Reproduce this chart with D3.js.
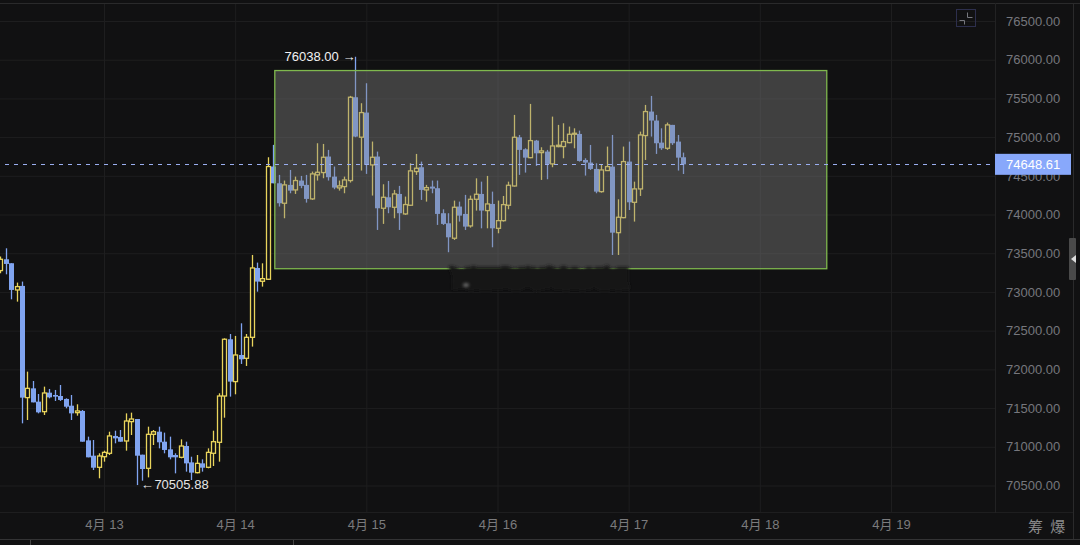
<!DOCTYPE html>
<html lang="zh">
<head>
  <meta charset="UTF-8">
  <title>K线</title>
  <script src="https://d3js.org/d3.v7.min.js"></script>
  <style>
    html, body { margin: 0; background: #111112; overflow: hidden; }
    svg { display: block; }
    text { font-family: "Liberation Sans", sans-serif; }
    .y-axis text { fill: #76777d; font-size: 13px; }
    .x-axis text { fill: #7b7b7d; font-size: 13px; font-family: "Liberation Sans", "Noto Sans CJK SC", sans-serif; }
    .grid-line { stroke: #1e1e1f; stroke-width: 1; }
  </style>
</head>
<body>
<svg width="1080" height="545"></svg>
<script>
  // hourly candles, the first one opens 04-12 05:00
  const firstCandle = new Date(2024, 3, 12, 5);

  const opens = [
    73276,73422,73371,73026,73078,71635,71755,71583,71454,71699,71669,71656,71618,71531,71441,71463,71083,70885,70735,
    70872,70916,71140,71127,71075,71325,71359,70898,70722,71161,71195,71066,70967,70894,70864,71010,70799,70666,70786,70735,70916,71058,71656,72389,
    71842,72186,72143,72414,73310,73138,73164,74620,74404,74146,74383,74318,74439,74383,74202,74512,74542,74749,74490,74344,74361,74439,75515,74999,
    75317,74641,74749,74081,74223,74094,74266,74008,74120,74555,74611,74318,74361,74340,74017,73887,73694,74103,74008,73853,74197,74266,74051,74137,
    73822,73921,74120,74369,74998,74843,74735,74955,74800,74813,74654,74878,74878,74929,75037,75041,74705,74671,74589,74296,74568,74619,73766,73960,
    74684,74158,74331,75020,75330,75214,74929,74856,75158,74942,74740
  ];
  const closes = [
    73422,73362,73026,73069,71635,71755,71574,71445,71695,71639,71648,71605,71518,71432,71463,71066,70864,70730,70881,
    70928,71140,71109,71066,71333,71359,70885,70713,71161,71195,71058,70959,70864,70864,71010,70786,70666,70786,70730,70928,71066,71656,72389,71842,
    72186,72130,72414,73310,73134,73172,74620,74404,74146,74383,74309,74439,74370,74202,74525,74546,74740,74482,74348,74370,74447,75515,75007,75317,
    74641,74740,74081,74223,74094,74266,74017,74129,74564,74598,74318,74348,74335,74008,73879,73706,74094,73986,73844,74197,74262,74051,74137,73822,
    73921,74128,74378,74998,74835,74735,74955,74791,74822,74654,74886,74895,74942,75037,75050,74692,74671,74589,74296,74576,74619,73766,73965,74684,
    74158,74331,75028,75330,75214,74921,74856,75158,74921,74735,74648.61
  ];
  const highs = [
    73457,73564,73371,73121,73134,71971,71850,71682,71777,71747,71734,71798,71626,71669,71549,71475,71131,71088,70916,
    70950,71195,71208,71217,71432,71441,71359,70898,71260,71217,71260,71183,71131,70916,71096,71066,70872,70894,70838,70980,71208,71691,72401,72457,
    72432,72595,72457,73478,73379,73370,74740,74900,74512,74439,74576,74490,74499,74512,74555,74921,74912,74835,74620,74439,74490,75533,76038,75438,
    75696,74943,74813,74391,74434,74318,74370,74232,74663,74783,74684,74383,74439,74439,74068,74017,74180,74167,74254,74245,74468,74425,74499,74296,
    74180,74240,74425,75287,75028,74856,75429,74964,74869,74835,75265,75158,75179,75136,75114,75084,74727,74899,74662,74641,74878,75028,74197,74878,
    74942,74425,75071,75416,75532,75287,75114,75188,75158,75028,74800
  ];
  const lows = [
    73241,73228,72905,72875,71303,71346,71574,71432,71411,71626,71592,71592,71497,71346,71402,71066,70864,70700,70593,
    70808,70894,71045,71066,70950,71152,70505.88,70562,70605,71023,70980,70916,70838,70657,70851,70679,70571,70657,70679,70722,70752,70808,71376,71648,
    71678,72070,72044,72294,73004,73069,73155,74404,74103,73952,74275,74266,74340,74154,74189,74439,74469,74439,74327,74309,74275,74413,74999,74568,
    74525,74245,73801,73879,74017,73952,73801,73995,74111,74512,74189,74167,74275,73866,73866,73513,73672,73909,73801,73831,74051,73822,73822,73577,
    73758,73909,74068,74361,74512,74542,74727,74628,74447,74456,74611,74869,74727,74921,74856,74684,74503,74576,74275,74283,74568,73478,73478,73952,
    74059,73909,74240,74705,75007,74783,74835,74835,74899,74568,74524
  ];

  const priceTicks = [70500,71000,71500,72000,72500,73000,73500,74000,74500,75000,75500,76000,76500];
  const dayTicks = [new Date(2024,3,13), new Date(2024,3,14), new Date(2024,3,15), new Date(2024,3,16), new Date(2024,3,17), new Date(2024,3,18), new Date(2024,3,19)];
  const dayLabels = ["4月 13","4月 14","4月 15","4月 16","4月 17","4月 18","4月 19"];

  const lastPrice = 74648.61;
  const maxPrice = 76038.00;
  const minPrice = 70505.88;
  // the drawn rectangle
  const boxPrices = [75860, 73300];
  const boxTimes = [new Date(2024,3,14,7,15), new Date(2024,3,18,12,15)];

  const width = 1080, height = 545;
  const plotRight = 995, plotBottom = 513;
  const up = "#e9d45c", down = "#80a4f0", bg = "#111112";

  const svg = d3.select("svg");
  const x = d3.scaleTime().domain([dayTicks[0], dayTicks[6]]).range([104, 891]);
  const y = d3.scaleLinear().domain([70500, 76500]).range([485.5, 21]);

  const candles = opens.map((o, i) => ({
    time: d3.timeHour.offset(firstCandle, i),
    open: o, close: closes[i], high: highs[i], low: lows[i]
  }));

  const defs = svg.append("defs");
  const smudge = defs.append("filter").attr("id", "smudge").attr("x", "-10%").attr("y", "-50%").attr("width", "120%").attr("height", "200%");
  smudge.append("feTurbulence").attr("type", "fractalNoise").attr("baseFrequency", 0.09).attr("numOctaves", 2).attr("seed", 4).attr("result", "noise");
  smudge.append("feDisplacementMap").attr("in", "SourceGraphic").attr("in2", "noise").attr("scale", 8).attr("result", "wavy");
  smudge.append("feGaussianBlur").attr("in", "wavy").attr("stdDeviation", 1.4);
  defs.append("filter").attr("id", "soft").attr("x", "-100%").attr("y", "-100%").attr("width", "300%").attr("height", "300%")
    .append("feGaussianBlur").attr("stdDeviation", 1.5);
  defs.append("clipPath").attr("id", "plot").append("rect").attr("width", plotRight).attr("height", plotBottom);

  // grid + axes
  const yAxis = d3.axisRight(y).tickValues(priceTicks).tickSize(-plotRight).tickPadding(11).tickFormat(d3.format(".2f"));
  svg.append("g").attr("class", "y-axis").attr("transform", `translate(${plotRight},0)`).call(yAxis)
    .call(g => g.select(".domain").remove())
    .call(g => g.selectAll("line").attr("class", "grid-line"));

  const xAxis = d3.axisBottom(x).tickValues(dayTicks).tickSize(-(plotBottom - 4)).tickPadding(7).tickFormat((d, i) => dayLabels[i]);
  svg.append("g").attr("class", "x-axis").attr("transform", `translate(0,${plotBottom})`).call(xAxis)
    .call(g => g.select(".domain").remove())
    .call(g => g.selectAll("line").attr("class", "grid-line"));

  // frame lines
  const frame = svg.append("g").attr("stroke", "#2a2a2b").attr("stroke-width", 1);
  frame.append("line").attr("x1", 0).attr("x2", width).attr("y1", 3.5).attr("y2", 3.5);
  frame.append("line").attr("x1", 0).attr("x2", 1073).attr("y1", plotBottom - .5).attr("y2", plotBottom - .5).attr("stroke", "#1e1e1f");
  frame.append("line").attr("x1", plotRight + .5).attr("x2", plotRight + .5).attr("y1", 3).attr("y2", plotBottom).attr("stroke", "#222223");
  frame.append("line").attr("x1", 1073.5).attr("x2", 1073.5).attr("y1", 3).attr("y2", 540);
  frame.append("line").attr("x1", 0).attr("x2", width).attr("y1", 539.5).attr("y2", 539.5).attr("stroke", "#333334");
  frame.append("line").attr("x1", 30.5).attr("x2", 30.5).attr("y1", 540).attr("y2", height).attr("stroke", "#444");
  frame.append("line").attr("x1", 293.5).attr("x2", 293.5).attr("y1", 540).attr("y2", height).attr("stroke", "#444");

  // candles
  const candle = svg.append("g").attr("clip-path", "url(#plot)")
    .selectAll("g").data(candles).join("g")
    .attr("transform", d => `translate(${Math.round(x(d.time)) + .5},0)`);

  candle.append("line")
    .attr("y1", d => y(d.high)).attr("y2", d => y(d.low))
    .attr("stroke-width", 1.3)
    .attr("stroke", d => d.close >= d.open ? up : down);

  candle.append("rect")
    .attr("x", d => d.close >= d.open ? -2 : -2.5)
    .attr("width", d => d.close >= d.open ? 4 : 5)
    .attr("y", d => y(Math.max(d.open, d.close)))
    .attr("height", d => Math.max(1, Math.abs(y(d.open) - y(d.close))))
    .attr("fill", d => d.close >= d.open ? bg : down)
    .attr("stroke-width", 1.3)
    .attr("stroke", d => d.close >= d.open ? up : "none");

  // rectangle over the candles
  svg.append("rect")
    .attr("x", x(boxTimes[0])).attr("y", y(boxPrices[0]))
    .attr("width", x(boxTimes[1]) - x(boxTimes[0]))
    .attr("height", y(boxPrices[1]) - y(boxPrices[0]))
    .attr("fill", "rgba(130,130,130,.41)")
    .attr("stroke", "#7fb84e").attr("stroke-width", 1.3);

  // smudged-out strip under the rectangle
  svg.append("rect").attr("x", 451).attr("y", 267).attr("width", 178).attr("height", 23)
    .attr("fill", "#121212").attr("filter", "url(#smudge)");
  svg.append("ellipse").attr("cx", 466).attr("cy", 285).attr("rx", 3).attr("ry", 2)
    .attr("fill", "#666").attr("filter", "url(#soft)");

  // last price line + tag
  svg.append("line").attr("x1", 5).attr("x2", plotRight)
    .attr("y1", Math.round(y(lastPrice)) + .5).attr("y2", Math.round(y(lastPrice)) + .5)
    .attr("stroke", "#9aaef0").attr("stroke-width", 1.2).attr("stroke-dasharray", "4 5");
  svg.append("rect").attr("x", plotRight).attr("y", y(lastPrice) - 10.5).attr("width", 76).attr("height", 21).attr("fill", "#88a8fb");
  svg.append("text").attr("x", 1006).attr("y", y(lastPrice) + 5).attr("fill", "#fff").attr("font-size", 13).text(lastPrice.toFixed(2));

  // high / low labels
  svg.append("text").attr("x", x(candles[65].time)).attr("y", y(maxPrice) + 4).attr("text-anchor", "end")
    .attr("fill", "#f2f2f2").attr("font-size", 13).text(maxPrice.toFixed(2) + " →");
  svg.append("text").attr("x", x(candles[25].time) + 4).attr("y", y(minPrice) + 4)
    .attr("fill", "#e6e6e6").attr("font-size", 13).attr("word-spacing", -3).text("← " + minPrice.toFixed(2));

  // collapse icon, top right
  const icon = svg.append("g").attr("fill", "none");
  icon.append("rect").attr("x", 956.5).attr("y", 9.5).attr("width", 19).attr("height", 17).attr("stroke", "#2d2f4d");
  icon.append("path").attr("d", "M967.5 12.5v5h5M959.5 20.5h5v4").attr("stroke", "#77787e");

  // right drawer handle
  svg.append("rect").attr("x", 1069).attr("y", 238).attr("width", 7).attr("height", 42).attr("rx", 1).attr("fill", "#4a4a4a");
  svg.append("path").attr("d", "M1071 259l5-4v8z").attr("fill", "#ddd");

  svg.append("text").attr("x", 1028).attr("y", 532).attr("fill", "#8c8c8c").attr("font-size", 15).attr("word-spacing", 4)
    .style("font-family", '"Noto Sans CJK SC"').text("筹 爆");
</script>
</body>
</html>
